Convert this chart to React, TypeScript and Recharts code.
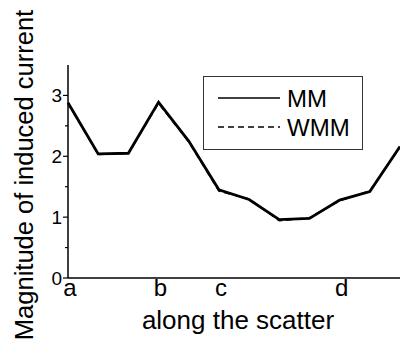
import React from 'react';
import { LineChart, Line, XAxis, YAxis, Label } from 'recharts';

// positions along the scatter (sample index) and letter marks
const positions = [0, 1, 2, 3, 4, 5, 6, 7, 8, 9, 10, 11];
const mmValues = [2.88, 2.04, 2.05, 2.89, 2.25, 1.45, 1.29, 0.96, 0.98, 1.28, 1.42, 2.16];
const wmmValues = [2.87, 2.03, 2.05, 2.87, 2.24, 1.43, 1.3, 0.94, 0.99, 1.27, 1.43, 2.15];
const xTicks = [0, 3, 5, 9];
const xTickLabels = ['a', 'b', 'c', 'd'];
const yTicks = [0, 0.5, 1, 1.5, 2, 2.5, 3];

const series = [
    { key: 'MM', dash: undefined as string | undefined },
    { key: 'WMM', dash: '6 4' },
];

const FONT = '"Liberation Sans", Arial, sans-serif';

const data = positions.map((p, i) => ({ pos: p, MM: mmValues[i], WMM: wmmValues[i] }));

const YTick = (props: any) => {
    const { x, y, payload } = props;
    const v = payload.value as number;
    const major = Number.isInteger(v);
    return (
        <g>
            <line x1={x - (major ? 5 : 3)} x2={x} y1={y} y2={y} stroke="#000" strokeWidth={1.2} />
            {major && (
                <text x={x - 6} y={y} textAnchor="end" dominantBaseline="central" fontSize={19} fontFamily={FONT} fill="#000">
                    {v}
                </text>
            )}
        </g>
    );
};

// legend drawn as an overlay box so it takes no space from the plot
const LegendBox = () => (
    <div style={{ position: 'absolute', left: 203, top: 76, width: 160, height: 74, boxSizing: 'border-box', border: '1px solid #333', background: '#fff' }}>
        <svg width={158} height={72} style={{ display: 'block' }}>
            {series.map((s, i) => (
                <g key={s.key}>
                    <line x1={14} x2={76} y1={21 + i * 29} y2={21 + i * 29} stroke="#000" strokeWidth={1.3} strokeDasharray={s.dash} />
                    <text x={83} y={21 + i * 29} dominantBaseline="central" fontSize={24} fontFamily={FONT} fill="#000">
                        {s.key}
                    </text>
                </g>
            ))}
        </svg>
    </div>
);

export default function App() {
    return (
        <div style={{ position: 'absolute', left: 0, top: 0, width: 400, height: 344, background: '#fff' }}>
            <LineChart width={400} height={344} data={data} margin={{ top: 65, right: 0, bottom: 0, left: 0 }}>
                <XAxis
                    dataKey="pos"
                    type="number"
                    domain={[0, 11]}
                    ticks={xTicks}
                    tickFormatter={(v: number) => xTickLabels[xTicks.indexOf(v)]}
                    tickLine={false}
                    tickSize={0}
                    tickMargin={1}
                    axisLine={{ stroke: '#000', strokeWidth: 1.5 }}
                    tick={{ fontSize: 24, fontFamily: FONT, fill: '#000', dx: 2 }}
                    height={66}
                >
                    <Label
                        content={() => (
                            <text x={238} y={320} textAnchor="middle" dominantBaseline="central" fontSize={26} fontFamily={FONT} fill="#000">
                                along the scatter
                            </text>
                        )}
                    />
                </XAxis>
                <YAxis
                    type="number"
                    domain={[0, 3.5]}
                    ticks={yTicks}
                    interval={0}
                    tickLine={false}
                    tickSize={0}
                    tickMargin={0}
                    tick={<YTick />}
                    axisLine={{ stroke: '#000', strokeWidth: 1.5 }}
                    width={68}
                >
                    <Label
                        content={() => (
                            <text x={33} y={175} transform="rotate(-90 33 175)" textAnchor="middle" fontSize={25.5} fontFamily={FONT} fill="#000">
                                Magnitude of induced current
                            </text>
                        )}
                    />
                </YAxis>
                <Line type="linear" dataKey="MM" stroke="#000" strokeWidth={2.8} dot={false} isAnimationActive={false} />
                <Line type="linear" dataKey="WMM" stroke="#000" strokeWidth={1.6} strokeDasharray="6 4" dot={false} isAnimationActive={false} />
            </LineChart>
            <LegendBox />
        </div>
    );
}
